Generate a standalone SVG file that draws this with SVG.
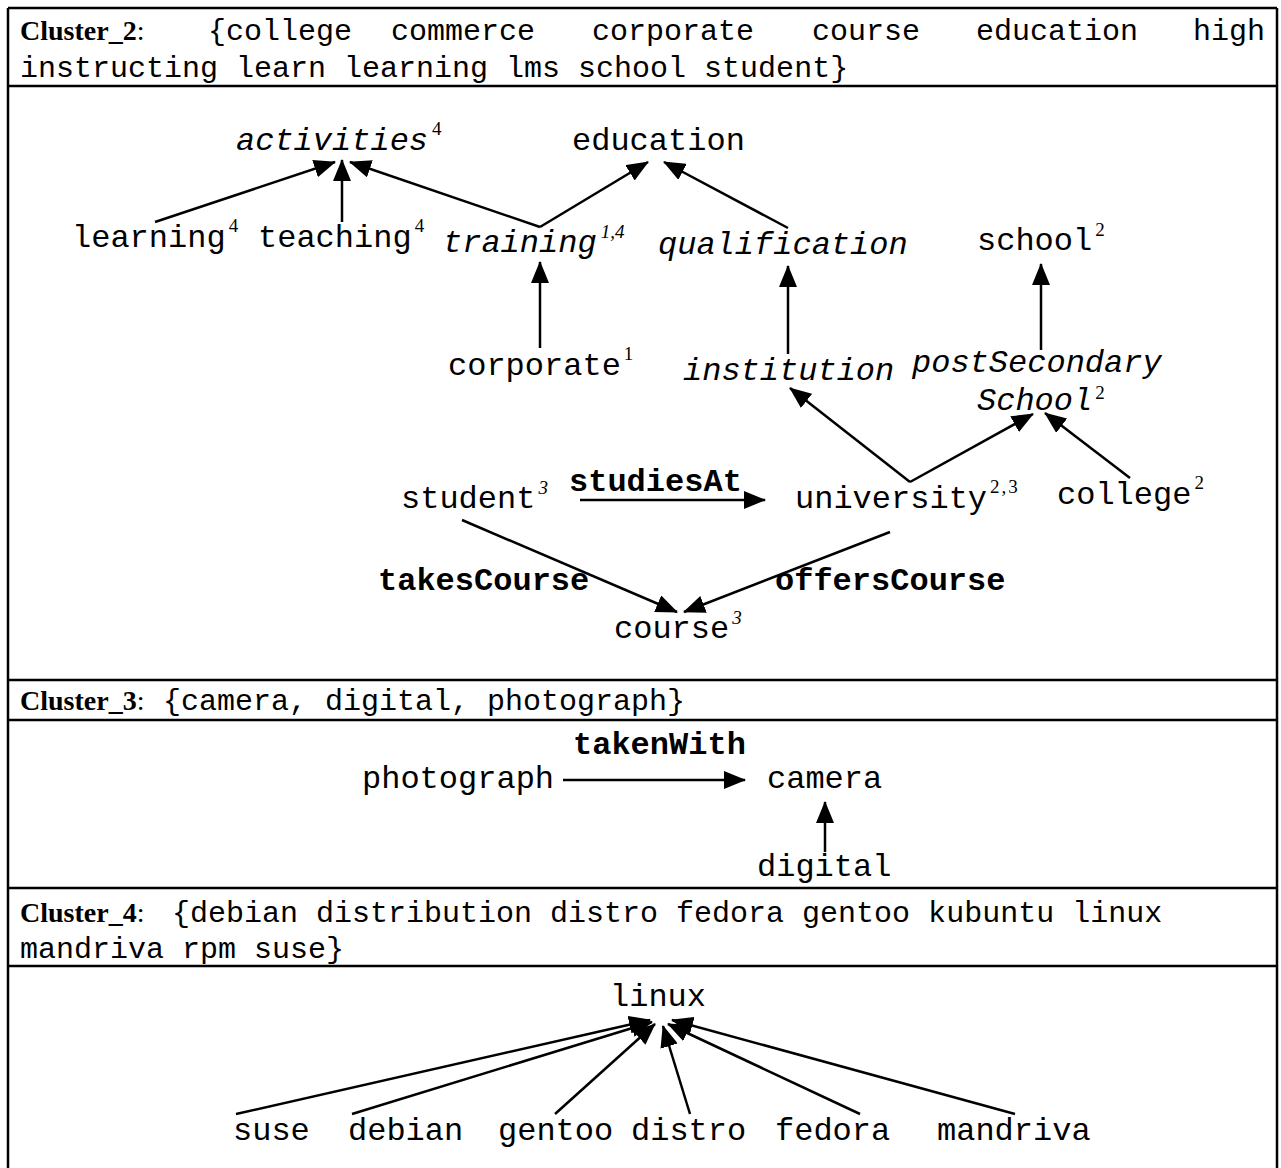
<svg xmlns="http://www.w3.org/2000/svg" width="1281" height="1168" viewBox="0 0 1281 1168">
<style>
.hd{font-family:"Liberation Serif",serif;font-weight:bold;font-size:28px;fill:#000}
.hc{font-family:"Liberation Serif",serif;font-size:28px;fill:#000}
.ht{font-family:"Liberation Mono",monospace;font-size:30px;fill:#000}
.n{font-family:"Liberation Mono",monospace;font-size:32px;fill:#000}
.i{font-style:italic}
.b{font-weight:bold}
.sup{font-family:"Liberation Serif",serif;font-size:19px;font-style:normal}
.supi{font-family:"Liberation Serif",serif;font-size:19px;font-style:italic}
.frame{stroke:#000;stroke-width:2.5;fill:none}
.e{stroke:#000;stroke-width:2.5;fill:none;marker-end:url(#ah)}
</style>
<defs>
<marker id="ah" viewBox="0 0 22 18" refX="21" refY="9" markerWidth="22" markerHeight="18" markerUnits="userSpaceOnUse" orient="auto">
<path d="M0,0 L22,9 L0,18 z" fill="#000"/>
</marker>
</defs>
<rect width="1281" height="1168" fill="#fff"/>
<g id="frame" class="frame">
<line x1="8" y1="8" x2="1277" y2="8"/>
<line x1="8" y1="8" x2="8" y2="1168"/>
<line x1="1277" y1="8" x2="1277" y2="1168"/>
<line x1="8" y1="86" x2="1277" y2="86"/>
<line x1="8" y1="680" x2="1277" y2="680"/>
<line x1="8" y1="720" x2="1277" y2="720"/>
<line x1="8" y1="888" x2="1277" y2="888"/>
<line x1="8" y1="966" x2="1277" y2="966"/>
</g>
<g id="header2">
<text x="20" y="40"><tspan class="hd">Cluster_2</tspan><tspan class="hc">:</tspan></text>
<text class="ht" y="40"><tspan x="208">{college</tspan><tspan x="391">commerce</tspan><tspan x="592">corporate</tspan><tspan x="812">course</tspan><tspan x="976">education</tspan><tspan x="1193">high</tspan></text>
<text class="ht" x="20" y="77">instructing learn learning lms school student}</text>
</g>
<g id="header3">
<text x="20" y="710"><tspan class="hd">Cluster_3</tspan><tspan class="hc">:</tspan></text>
<text class="ht" x="163" y="710">{camera, digital, photograph}</text>
</g>
<g id="header4">
<text x="20" y="922"><tspan class="hd">Cluster_4</tspan><tspan class="hc">:</tspan></text>
<text class="ht" x="172" y="922">{debian distribution distro fedora gentoo kubuntu linux</text>
<text class="ht" x="20" y="958">mandriva rpm suse}</text>
</g>
<g id="connectors">
<line class="e" x1="155" y1="222" x2="335" y2="162"/>
<line class="e" x1="342" y1="222" x2="342" y2="160"/>
<line class="e" x1="540" y1="227" x2="350" y2="162"/>
<line class="e" x1="540" y1="227" x2="648" y2="162"/>
<line class="e" x1="788" y1="228" x2="664" y2="162"/>
<line class="e" x1="540" y1="348" x2="540" y2="262"/>
<line class="e" x1="788" y1="354" x2="788" y2="266"/>
<line class="e" x1="1041" y1="350" x2="1041" y2="264"/>
<line class="e" x1="910" y1="482" x2="790" y2="388"/>
<line class="e" x1="910" y1="482" x2="1033" y2="414"/>
<line class="e" x1="1130" y1="478" x2="1045" y2="413"/>
<line class="e" x1="580" y1="500" x2="765" y2="500"/>
<line class="e" x1="462" y1="520" x2="677" y2="612"/>
<line class="e" x1="890" y1="532" x2="684" y2="612"/>
<line class="e" x1="563" y1="780" x2="745" y2="780"/>
<line class="e" x1="825" y1="852" x2="825" y2="802"/>
<line class="e" x1="236" y1="1114" x2="650" y2="1020"/>
<line class="e" x1="352" y1="1114" x2="652" y2="1022"/>
<line class="e" x1="555" y1="1114" x2="655" y2="1024"/>
<line class="e" x1="690" y1="1114" x2="663" y2="1026"/>
<line class="e" x1="860" y1="1114" x2="668" y2="1024"/>
<line class="e" x1="1015" y1="1114" x2="672" y2="1020"/>
</g>
<g id="n-activities"><text class="n i" x="236" y="150">activities<tspan class="sup" dx="4" dy="-15">4</tspan></text></g>
<g id="n-education"><text class="n" x="572" y="150">education</text></g>
<g id="n-learning"><text class="n" x="72" y="247">learning<tspan class="sup" dx="3" dy="-15">4</tspan></text></g>
<g id="n-teaching"><text class="n" x="258" y="247">teaching<tspan class="sup" dx="3" dy="-15">4</tspan></text></g>
<g id="n-training"><text class="n i" x="443" y="252">training<tspan class="supi" dx="4" dy="-14">1,4</tspan></text></g>
<g id="n-qualification"><text class="n i" x="658" y="254">qualification</text></g>
<g id="n-school"><text class="n" x="977" y="250">school<tspan class="sup" dx="3" dy="-14">2</tspan></text></g>
<g id="n-corporate"><text class="n" x="448" y="375">corporate<tspan class="sup" dx="3" dy="-15">1</tspan></text></g>
<g id="n-institution"><text class="n i" x="683" y="380">institution</text></g>
<g id="n-postSecondarySchool"><text class="n i" x="912" y="372">postSecondary</text><text class="n i" x="977" y="410">School<tspan class="sup" dx="3" dy="-11">2</tspan></text></g>
<g id="n-student"><text class="n" x="401" y="508">student<tspan class="supi" dx="3" dy="-14">3</tspan></text></g>
<g id="n-university"><text class="n" x="795" y="508">university<tspan class="sup" dx="3" dy="-15" letter-spacing="2">2,3</tspan></text></g>
<g id="n-college"><text class="n" x="1057" y="504">college<tspan class="sup" dx="3" dy="-15">2</tspan></text></g>
<g id="n-course"><text class="n" x="614" y="638">course<tspan class="supi" dx="3" dy="-14">3</tspan></text></g>
<g id="l-studiesAt"><text class="n b" x="569" y="491">studiesAt</text></g>
<g id="l-takesCourse"><text class="n b" x="378" y="590">takesCourse</text></g>
<g id="l-offersCourse"><text class="n b" x="775" y="590">offersCourse</text></g>
<g id="n-photograph"><text class="n" x="362" y="788">photograph</text></g>
<g id="n-camera"><text class="n" x="767" y="788">camera</text></g>
<g id="n-digital"><text class="n" x="757" y="876">digital</text></g>
<g id="l-takenWith"><text class="n b" x="573" y="754">takenWith</text></g>
<g id="n-linux"><text class="n" x="610" y="1006">linux</text></g>
<g id="n-suse"><text class="n" x="233" y="1140">suse</text></g>
<g id="n-debian"><text class="n" x="348" y="1140">debian</text></g>
<g id="n-gentoo"><text class="n" x="498" y="1140">gentoo</text></g>
<g id="n-distro"><text class="n" x="631" y="1140">distro</text></g>
<g id="n-fedora"><text class="n" x="775" y="1140">fedora</text></g>
<g id="n-mandriva"><text class="n" x="937" y="1140">mandriva</text></g>
</svg>
